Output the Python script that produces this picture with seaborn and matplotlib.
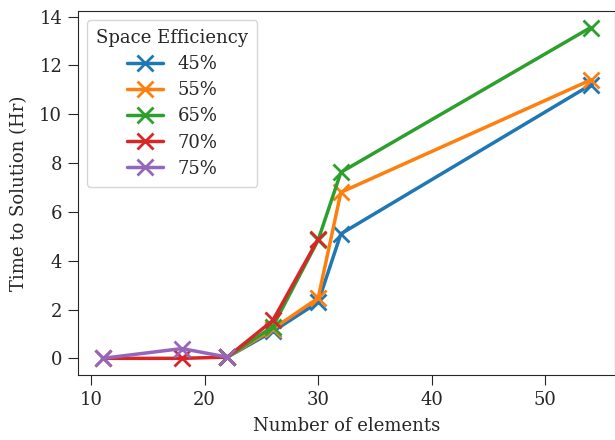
import pandas as pd
import matplotlib
matplotlib.use('Agg')
import matplotlib.pyplot as plt
import seaborn as sns

efficiency = ['45%', '55%', '65%', '70%', '75%']
elements = {
    '45%': [22, 26, 30, 32, 54],
    '55%': [22, 26, 30, 32, 54],
    '65%': [22, 26, 30, 32, 54],
    '70%': [11, 18, 22, 26, 30],
    '75%': [11, 18, 22],
}
hours = {
    '45%': [0.05, 1.1, 2.3, 5.1, 11.2],
    '55%': [0.05, 1.2, 2.47, 6.8, 11.4],
    '65%': [0.05, 1.3, 4.85, 7.62, 13.55],
    '70%': [0.0, 0.0, 0.05, 1.55, 4.88],
    '75%': [0.0, 0.4, 0.05],
}

rows = []
for eff in efficiency:
    for n, t in zip(elements[eff], hours[eff]):
        rows.append({'Number of elements': n, 'Time to Solution (Hr)': t,
                     'Space Efficiency': eff})
data = pd.DataFrame(rows)

sns.set_style('ticks')
plt.rcParams['font.family'] = ['DejaVu Serif']
plt.rcParams['xtick.major.size'] = 7
plt.rcParams['ytick.major.size'] = 7
plt.rcParams['xtick.major.pad'] = 4.5
plt.rcParams['ytick.major.pad'] = 4.5

fig, ax = plt.subplots(figsize=(6.15, 4.4), dpi=100)
sns.lineplot(data=data, x='Number of elements', y='Time to Solution (Hr)',
             hue='Space Efficiency', hue_order=efficiency, palette='tab10',
             marker='x', markersize=12, markeredgewidth=2, linewidth=2.5,
             sort=False, ax=ax)
for line in ax.lines:
    line.set_markeredgecolor(line.get_color())
ax.set_xlabel('Number of elements', fontsize=13, labelpad=6)
ax.set_ylabel('Time to Solution (Hr)', fontsize=13, labelpad=8)
ax.tick_params(labelsize=13)
ax.set_yticks([0, 2, 4, 6, 8, 10, 12, 14])
leg = ax.legend(title='Space Efficiency', loc='upper left', fontsize=13,
                title_fontsize=13, labelspacing=0.45, borderpad=0.5)
for h in leg.legend_handles:
    h.set_marker('x')
    h.set_markersize(12)
    h.set_markeredgewidth(2)
    h.set_markeredgecolor(h.get_color())
fig.subplots_adjust(left=0.127, right=1.0, bottom=0.148, top=0.975)
fig.savefig('out.png')
